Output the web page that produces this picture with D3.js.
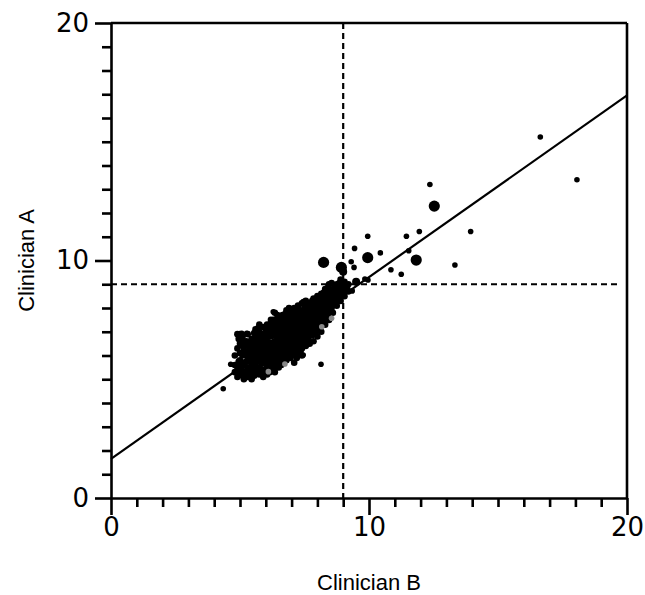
<!DOCTYPE html>
<html>
<head>
<meta charset="utf-8">
<script src="https://cdn.jsdelivr.net/npm/d3@7"></script>
<style>
  body { margin: 0; background: #fff; }
  svg { display: block; }
</style>
</head>
<body>
<svg id="chart" width="645" height="595"></svg>
<script>
  // cluster of readings (Clinician B, Clinician A)
  const clusterB = [
    4.8, 4.8, 4.8,
    4.9, 4.9, 4.9, 4.9,
    5.0, 5.0, 5.0, 5.0, 5.0, 5.0,
    5.15, 5.15, 5.15, 5.15, 5.15,
    5.3, 5.3, 5.3, 5.3, 5.3, 5.3,
    5.45, 5.45, 5.45, 5.45, 5.45, 5.45,
    5.6, 5.6, 5.6, 5.6, 5.6, 5.6,
    5.75, 5.75, 5.75, 5.75, 5.75, 5.75, 5.75,
    5.9, 5.9, 5.9, 5.9, 5.9, 5.9, 5.9,
    6.05, 6.05, 6.05, 6.05, 6.05, 6.05, 6.05,
    6.2, 6.2, 6.2, 6.2, 6.2, 6.2, 6.2,
    6.35, 6.35, 6.35, 6.35, 6.35, 6.35, 6.35, 6.35,
    6.5, 6.5, 6.5, 6.5, 6.5, 6.5, 6.5, 6.5,
    6.65, 6.65, 6.65, 6.65, 6.65, 6.65, 6.65, 6.65,
    6.8, 6.8, 6.8, 6.8, 6.8, 6.8, 6.8, 6.8,
    6.95, 6.95, 6.95, 6.95, 6.95, 6.95, 6.95,
    7.1, 7.1, 7.1, 7.1, 7.1, 7.1, 7.1, 7.1,
    7.25, 7.25, 7.25, 7.25, 7.25, 7.25, 7.25,
    7.4, 7.4, 7.4, 7.4, 7.4, 7.4, 7.4,
    7.55, 7.55, 7.55, 7.55, 7.55, 7.55,
    7.7, 7.7, 7.7, 7.7, 7.7, 7.7,
    7.85, 7.85, 7.85, 7.85, 7.85, 7.85,
    8.0, 8.0, 8.0, 8.0, 8.0, 8.0,
    8.15, 8.15, 8.15, 8.15, 8.15,
    8.3, 8.3, 8.3, 8.3, 8.3,
    8.45, 8.45, 8.45, 8.45, 8.45,
    8.6, 8.6, 8.6, 8.6,
    8.75, 8.75, 8.75, 8.75,
    8.9, 8.9, 8.9, 8.9,
    9.05, 9.05, 9.05,
    9.2, 9.2
  ];
  const clusterA = [
    5.3, 5.6, 6.0,
    5.1, 5.5, 6.3, 6.9,
    5.2, 5.4, 5.8, 6.1, 6.5, 6.9,
    5.0, 5.3, 5.7, 6.2, 6.6,
    5.1, 5.5, 5.9, 6.4, 6.9, 6.1,
    5.2, 5.6, 6.0, 6.3, 6.7, 5.0,
    5.3, 5.7, 6.1, 6.5, 6.8, 7.1,
    5.2, 5.5, 5.9, 6.2, 6.6, 7.0, 7.3,
    5.4, 5.8, 6.1, 6.4, 6.7, 7.2, 5.1,
    5.5, 5.9, 6.3, 6.6, 6.9, 7.3, 5.2,
    5.4, 5.7, 6.0, 6.4, 6.8, 7.1, 7.5,
    5.6, 6.0, 6.3, 6.6, 7.0, 7.3, 7.8, 5.3,
    5.5, 5.9, 6.2, 6.5, 6.8, 7.2, 7.5, 7.1,
    5.7, 6.1, 6.4, 6.7, 7.0, 7.4, 7.7, 5.9,
    5.8, 6.0, 6.3, 6.6, 6.9, 7.3, 7.6, 7.9,
    5.9, 6.2, 6.5, 6.8, 7.1, 7.5, 7.8,
    6.0, 6.4, 6.7, 7.0, 7.3, 7.6, 8.0, 5.7,
    6.1, 6.5, 6.9, 7.2, 7.5, 7.8, 8.1,
    6.0, 6.3, 6.7, 7.0, 7.4, 7.7, 8.2,
    6.4, 6.8, 7.1, 7.5, 7.9, 8.3,
    6.5, 6.9, 7.3, 7.6, 8.0, 8.2,
    6.6, 7.0, 7.4, 7.8, 8.1, 8.4,
    6.8, 7.2, 7.6, 7.9, 8.3, 8.5,
    7.0, 7.4, 7.8, 8.2, 8.6,
    7.3, 7.7, 8.1, 8.5, 8.8,
    7.5, 7.9, 8.3, 8.7, 9.0,
    7.8, 8.2, 8.5, 8.8,
    8.1, 8.4, 8.7, 9.0,
    8.3, 8.6, 8.9, 9.2,
    8.5, 8.8, 9.1,
    8.7, 9.0
  ];

  // more cluster readings lying between the ones above
  const fillB = [
    4.95, 4.95, 4.95,
    5.1, 5.1, 5.1, 5.1, 5.1,
    5.25, 5.25, 5.25, 5.25,
    5.4, 5.4, 5.4, 5.4,
    5.55, 5.55, 5.55, 5.55, 5.55, 5.55,
    5.7, 5.7, 5.7, 5.7, 5.7, 5.7,
    5.85, 5.85, 5.85, 5.85, 5.85, 5.85,
    6.0, 6.0, 6.0, 6.0, 6.0, 6.0,
    6.15, 6.15, 6.15, 6.15, 6.15, 6.15, 6.15,
    6.3, 6.3, 6.3, 6.3, 6.3, 6.3, 6.3,
    6.45, 6.45, 6.45, 6.45, 6.45, 6.45, 6.45,
    6.6, 6.6, 6.6, 6.6, 6.6, 6.6, 6.6,
    6.75, 6.75, 6.75, 6.75, 6.75, 6.75, 6.75,
    6.9, 6.9, 6.9, 6.9, 6.9, 6.9, 6.9,
    7.05, 7.05, 7.05, 7.05, 7.05, 7.05,
    7.2, 7.2, 7.2, 7.2, 7.2, 7.2, 7.2,
    7.35, 7.35, 7.35, 7.35, 7.35, 7.35,
    7.5, 7.5, 7.5, 7.5, 7.5,
    7.65, 7.65, 7.65, 7.65, 7.65,
    7.8, 7.8, 7.8, 7.8, 7.8,
    7.95, 7.95, 7.95, 7.95, 7.95,
    8.1, 8.1, 8.1, 8.1,
    8.25, 8.25, 8.25, 8.25,
    8.4, 8.4, 8.4, 8.4,
    8.55, 8.55, 8.55, 8.55,
    8.7, 8.7, 8.7,
    8.85, 8.85, 8.85,
    9.0, 9.0,
    9.15
  ];
  const fillA = [
    5.35, 5.75, 6.7,
    5.15, 5.55, 6.0, 6.4, 6.8,
    5.3, 5.75, 6.15, 6.6,
    5.35, 5.8, 6.2, 6.5,
    5.15, 5.5, 5.9, 6.3, 6.65, 6.95,
    5.4, 5.75, 6.05, 6.4, 6.8, 7.15,
    5.3, 5.65, 6.0, 6.3, 6.55, 6.9,
    5.4, 5.7, 6.1, 6.45, 6.75, 7.1,
    5.3, 5.6, 5.85, 6.2, 6.55, 6.95, 7.3,
    5.45, 5.8, 6.15, 6.5, 6.85, 7.15, 7.5,
    5.75, 6.05, 6.35, 6.7, 7.0, 7.35, 7.7,
    5.6, 5.95, 6.25, 6.55, 6.85, 7.25, 7.55,
    5.9, 6.2, 6.45, 6.8, 7.15, 7.45, 7.75,
    6.05, 6.35, 6.65, 6.95, 7.3, 7.65, 8.0,
    6.2, 6.55, 6.85, 7.15, 7.45, 7.8,
    5.9, 6.3, 6.7, 7.05, 7.35, 7.65, 7.95,
    6.2, 6.5, 6.85, 7.2, 7.55, 7.9,
    6.6, 6.95, 7.3, 7.7, 8.05,
    6.7, 7.1, 7.45, 7.8, 8.1,
    6.85, 7.2, 7.6, 7.95, 8.3,
    7.0, 7.4, 7.75, 8.1, 8.4,
    7.25, 7.6, 8.0, 8.4,
    7.5, 7.9, 8.3, 8.65,
    7.7, 8.1, 8.5, 8.85,
    8.0, 8.35, 8.7, 9.05,
    8.25, 8.55, 8.9,
    8.45, 8.75, 9.05,
    8.65, 8.95,
    8.85
  ];

  // sparse readings: B, A, size (1 small, 2 medium, 3 large)
  const sparseB = [4.35, 4.64, 4.94, 8.14, 7.45, 6.29, 5.07, 5.26, 7.45,
    8.24, 8.93, 9.0, 9.31, 9.42, 9.5, 9.84, 9.96, 9.35, 9.95, 9.44, 10.44,
    9.95, 11.54, 11.83, 10.85, 11.25, 11.95, 11.45, 12.36, 12.53, 13.94,
    13.33, 16.64, 18.06];
  const sparseA = [4.6, 5.63, 5.63, 5.63, 6.02, 7.84, 6.93, 6.93, 8.27,
    9.92, 9.71, 9.53, 9.95, 9.71, 9.11, 9.22, 9.18, 8.72, 11.02, 10.51, 10.32,
    10.12, 10.41, 10.02, 9.61, 9.42, 11.22, 11.02, 13.2, 12.29, 11.22,
    9.81, 15.2, 13.4];
  const sparseSize = [1, 1, 1, 1, 1, 1, 1, 1, 1,
    3, 3, 2, 1, 1, 2, 1, 1, 1, 1, 1, 1,
    3, 1, 3, 1, 1, 1, 1, 1, 3, 1,
    1, 1, 1];

  // grey readings
  const greyB = [6.74, 6.1, 8.55, 8.17];
  const greyA = [5.64, 5.32, 7.57, 7.21];

  // fitted line and cut-offs
  const fitIntercept = 1.65;
  const fitSlope = 0.765;
  const cutB = 9;
  const cutA = 9;

  const svg = d3.select('#chart');
  const plotLeft = 111, plotRight = 627, plotTop = 23, plotBottom = 498;

  const x = d3.scaleLinear().domain([0, 20]).range([plotLeft, plotRight]);
  const y = d3.scaleLinear().domain([0, 20]).range([plotBottom, plotTop]);
  const radius = { 0: 3.3, 1: 2.8, 2: 4, 3: 5.6 };

  const points = [];
  clusterB.forEach((b, i) => points.push({ b, a: clusterA[i], s: 0, c: '#000' }));
  fillB.forEach((b, i) => points.push({ b, a: fillA[i], s: 0, c: '#000' }));
  greyB.forEach((b, i) => points.push({ b, a: greyA[i], s: 1, c: '#888' }));
  sparseB.forEach((b, i) => points.push({ b, a: sparseA[i], s: sparseSize[i], c: '#000' }));

  svg.append('g')
    .selectAll('circle')
    .data(points)
    .enter()
    .append('circle')
    .attr('cx', d => x(d.b))
    .attr('cy', d => y(d.a))
    .attr('r', d => radius[d.s])
    .attr('fill', d => d.c);

  // dashed cut-offs
  svg.append('line')
    .attr('x1', x(0)).attr('x2', x(19.7))
    .attr('y1', y(cutA)).attr('y2', y(cutA))
    .attr('stroke', '#000').attr('stroke-width', 2.2)
    .attr('stroke-dasharray', '6,4');
  svg.append('line')
    .attr('x1', x(cutB)).attr('x2', x(cutB))
    .attr('y1', y(20)).attr('y2', y(0))
    .attr('stroke', '#000').attr('stroke-width', 2.2)
    .attr('stroke-dasharray', '6,4');

  // regression line
  svg.append('line')
    .attr('x1', x(0)).attr('y1', y(fitIntercept))
    .attr('x2', x(20)).attr('y2', y(fitIntercept + fitSlope * 20))
    .attr('stroke', '#000').attr('stroke-width', 2.2);

  const ticks = d3.range(0, 21);
  const major = v => v % 10 === 0;

  const xAxis = svg.append('g')
    .attr('transform', `translate(0,${plotBottom})`)
    .call(d3.axisBottom(x).tickValues(ticks).tickSize(9).tickSizeOuter(0)
      .tickFormat(v => major(v) ? v : ''));
  const yAxis = svg.append('g')
    .attr('transform', `translate(${plotLeft},0)`)
    .call(d3.axisLeft(y).tickValues(ticks).tickSize(9).tickSizeOuter(0)
      .tickFormat(v => major(v) ? v : ''));

  [xAxis, yAxis].forEach(g => {
    g.select('.domain').attr('stroke-width', 2.6);
    g.selectAll('.tick line').attr('stroke-width', 2.6);
    g.selectAll('.tick text')
      .attr('font-family', '"DejaVu Sans", Verdana, sans-serif')
      .attr('font-size', 26)
      .attr('fill', '#000');
  });
  xAxis.selectAll('.tick').filter(major).select('line').attr('y2', 17);
  xAxis.selectAll('.tick text').attr('y', 20);
  yAxis.selectAll('.tick').filter(major).select('line').attr('x2', -16);
  yAxis.selectAll('.tick text').attr('x', -22);

  // top and right frame
  svg.append('line')
    .attr('x1', x(0)).attr('x2', x(20)).attr('y1', y(20)).attr('y2', y(20))
    .attr('stroke', '#000').attr('stroke-width', 2.6);
  svg.append('line')
    .attr('x1', x(20)).attr('x2', x(20)).attr('y1', y(20)).attr('y2', y(0))
    .attr('stroke', '#000').attr('stroke-width', 2.6);

  svg.append('text')
    .attr('x', (plotLeft + plotRight) / 2).attr('y', 590)
    .attr('text-anchor', 'middle')
    .attr('font-family', '"Liberation Sans", Arial, sans-serif')
    .attr('font-size', 22)
    .text('Clinician B');
  svg.append('text')
    .attr('transform', `translate(34,${(plotTop + plotBottom) / 2}) rotate(-90)`)
    .attr('text-anchor', 'middle')
    .attr('font-family', '"Liberation Sans", Arial, sans-serif')
    .attr('font-size', 22)
    .text('Clinician A');
</script>
</body>
</html>
